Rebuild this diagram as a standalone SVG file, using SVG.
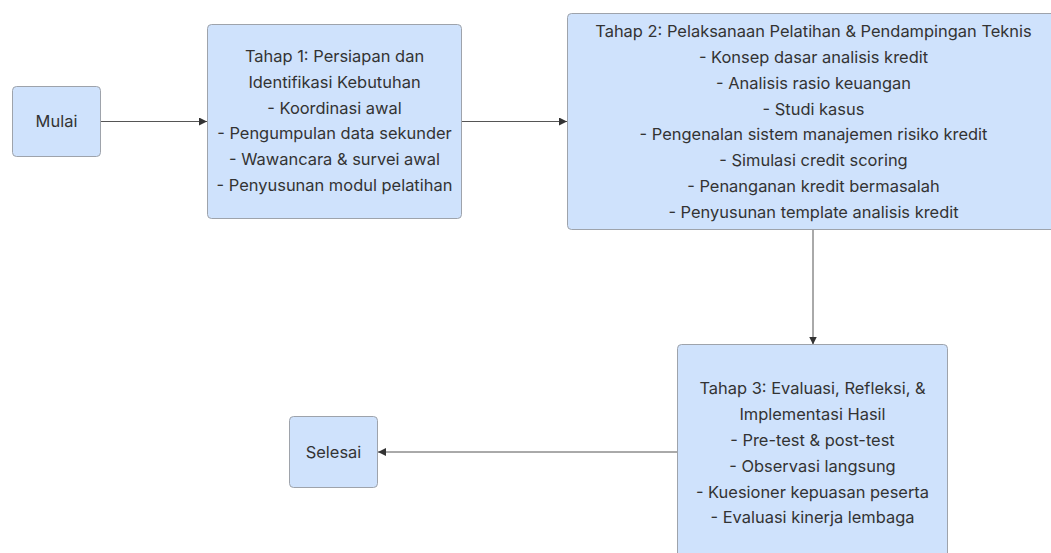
<svg xmlns="http://www.w3.org/2000/svg" width="1051" height="553" viewBox="0 0 1051 553">
<defs>
<style>
.node rect{fill:#cfe2fc;stroke:#9ea3ab;stroke-width:1}
.node text{font-family:Inter,"Noto Sans","Liberation Sans",sans-serif;font-size:16.45px;fill:#333;text-anchor:middle}
.edge{stroke:#555;stroke-width:1;fill:none;marker-end:url(#arrow)}
</style>
<marker id="arrow" viewBox="0 0 10 10" refX="10" refY="5" markerWidth="8" markerHeight="8" markerUnits="userSpaceOnUse" orient="auto">
<path d="M0,0 L10,5 L0,10 z" fill="#333"/>
</marker>
</defs>
<rect width="1051" height="553" fill="#fff"/>
<g id="connectors">
<line class="edge" x1="101" y1="121.5" x2="207" y2="121.5"/>
<line class="edge" x1="461" y1="121.5" x2="567" y2="121.5"/>
<line class="edge" x1="813" y1="229" x2="813" y2="344.5"/>
<line class="edge" x1="677" y1="452" x2="378" y2="452"/>
</g>
<g id="mulai" class="node">
<rect x="12.5" y="86.5" width="88" height="70" rx="4"/>
<text x="56.5" y="127">Mulai</text>
</g>
<g id="tahap1" class="node">
<rect x="207.5" y="24.5" width="254" height="194" rx="4"/>
<text x="334.5" y="62">Tahap 1: Persiapan dan</text>
<text x="334.5" y="88">Identifikasi Kebutuhan</text>
<text x="334.5" y="113.5">- Koordinasi awal</text>
<text x="334.5" y="139">- Pengumpulan data sekunder</text>
<text x="334.5" y="165">- Wawancara &amp; survei awal</text>
<text x="334.5" y="191">- Penyusunan modul pelatihan</text>
</g>
<g id="tahap2" class="node">
<rect x="567.5" y="13.5" width="492" height="216" rx="4"/>
<text x="813.5" y="37">Tahap 2: Pelaksanaan Pelatihan &amp; Pendampingan Teknis</text>
<text x="813.5" y="63">- Konsep dasar analisis kredit</text>
<text x="813.5" y="89">- Analisis rasio keuangan</text>
<text x="813.5" y="114.5">- Studi kasus</text>
<text x="813.5" y="140">- Pengenalan sistem manajemen risiko kredit</text>
<text x="813.5" y="166">- Simulasi credit scoring</text>
<text x="813.5" y="192">- Penanganan kredit bermasalah</text>
<text x="813.5" y="218">- Penyusunan template analisis kredit</text>
</g>
<g id="tahap3" class="node">
<rect x="677.5" y="344.5" width="270" height="215" rx="4"/>
<text x="812.5" y="394">Tahap 3: Evaluasi, Refleksi, &amp;</text>
<text x="812.5" y="420">Implementasi Hasil</text>
<text x="812.5" y="446">- Pre-test &amp; post-test</text>
<text x="812.5" y="472">- Observasi langsung</text>
<text x="812.5" y="497.5">- Kuesioner kepuasan peserta</text>
<text x="812.5" y="523">- Evaluasi kinerja lembaga</text>
</g>
<g id="selesai" class="node">
<rect x="289.5" y="416.5" width="88" height="71" rx="4"/>
<text x="333.5" y="457.5">Selesai</text>
</g>
</svg>
